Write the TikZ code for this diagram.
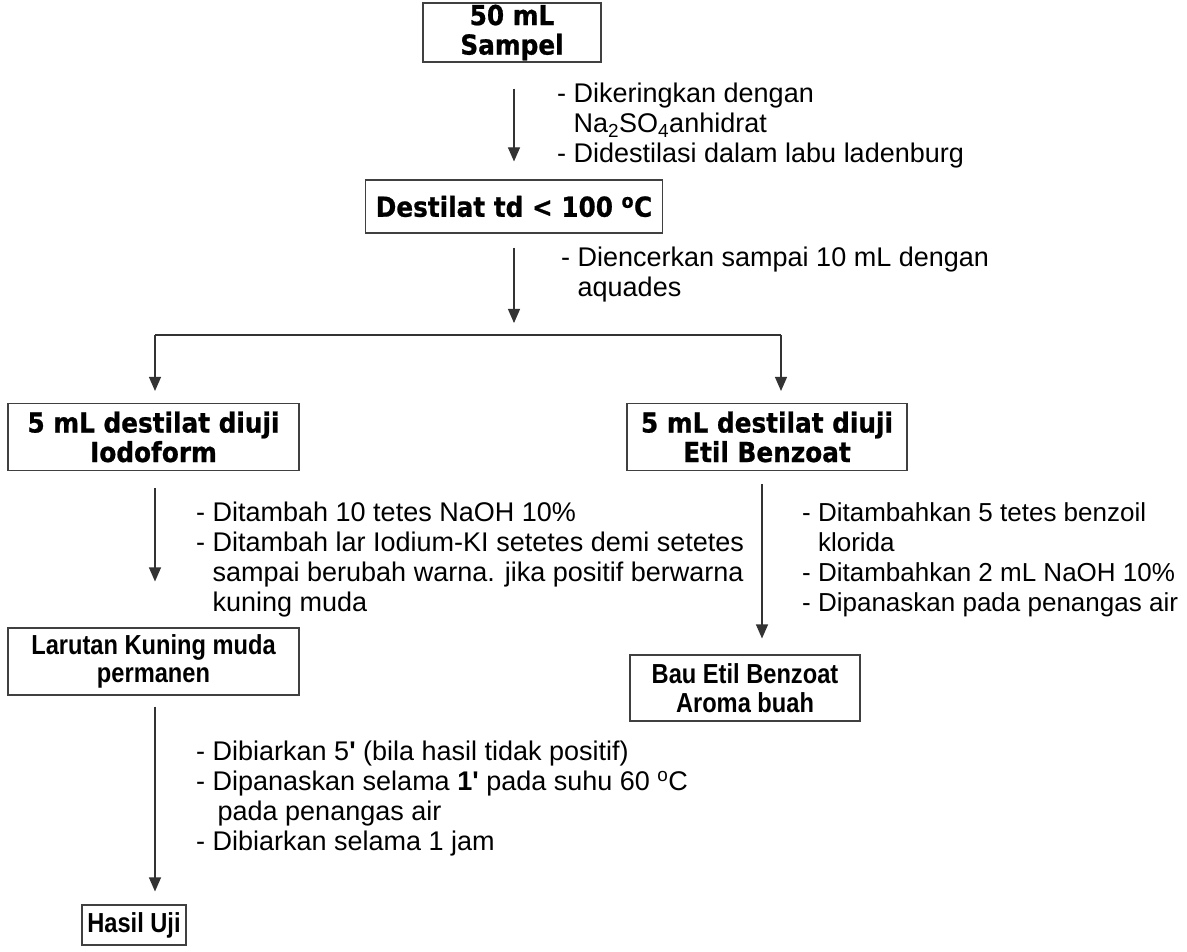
\documentclass[tikz,border=0pt]{standalone}
\usepackage{fontspec}
\setmainfont{Liberation Sans}
\newfontfamily\heavyfont{DejaVu Sans Bold}[FakeStretch=0.9, FakeBold=0.8]
\newfontfamily\boxfont{Liberation Sans Bold}[FakeStretch=0.86]
\usetikzlibrary{arrows.meta,positioning}
\newcommand{\ind}{\hphantom{-\ }}
\tikzset{
  box/.style={draw=black!75, line width=1.1pt, inner sep=0pt, align=center},
  heavy/.style={font=\heavyfont\fontsize{27.5}{29.5}\selectfont},
  plain/.style={font=\boxfont\fontsize{27.5}{28.5}\selectfont},
  note/.style={anchor=north west, inner sep=0pt, align=left,
    font=\fontsize{27}{30}\selectfont},
  link/.style={draw=black!80, line width=1.1pt},
  arr/.style={link, -{Triangle[width=12pt,length=14pt]}}
}
\begin{document}
\begin{tikzpicture}[x=1pt,y=-1pt]
  \useasboundingbox (0,0) rectangle (1187,952);
  % boxes
  \node [box, heavy, minimum width=178, minimum height=59] (sampel) at (512,32.5) {50 mL\\Sampel};
  \node [box, heavy, minimum width=297, minimum height=53] (destilat) at (514,206.5) {Destilat td < 100 \textsuperscript{o}C};
  \node [box, heavy, minimum width=291, minimum height=67] (iodo) at (153.5,437) {5 mL destilat diuji\\Iodoform};
  \node [box, heavy, minimum width=280, minimum height=67] (etil) at (767,437) {5 mL destilat diuji\\Etil Benzoat};
  \node [box, plain, minimum width=291, minimum height=67] (larutan) at (153.5,661.5) {Larutan Kuning muda\\permanen};
  \node [box, plain, minimum width=230, minimum height=66] (bau) at (745,688) {Bau Etil Benzoat\\Aroma buah};
  \node [box, plain, minimum width=104, minimum height=40] (hasil) at (134,925) {Hasil Uji};
  % notes
  \node [note] (n1) at (557,83) {- Dikeringkan dengan\\\ind Na\textsubscript{2}SO\textsubscript{4}anhidrat\\- Didestilasi dalam labu ladenburg};
  \node [note] (n2) at (561,247) {- Diencerkan sampai 10 mL dengan\\\ind aquades};
  \node [note] (n3) at (196,502) {- Ditambah 10 tetes NaOH 10\%\\- Ditambah lar Iodium-KI setetes demi setetes\\\ind sampai berubah warna. jika positif berwarna\\\ind kuning muda};
  \node [note, font=\fontsize{26}{30}\selectfont] (n4) at (802,502) {- Ditambahkan 5 tetes benzoil\\\ind klorida\\- Ditambahkan 2 mL NaOH 10\%\\- Dipanaskan pada penangas air};
  \node [note] (n5) at (196,741) {- Dibiarkan 5\textbf{\textquotesingle} (bila hasil tidak positif)\\- Dipanaskan selama \textbf{1\textquotesingle} pada suhu 60 \textsuperscript{o}C\\\ind\hspace{5pt}pada penangas air\\- Dibiarkan selama 1 jam};
  % branch
  \coordinate (split) at (514,335);
  \coordinate (splitL) at (155,335);
  \coordinate (splitR) at (781,335);
  % connectors
  \draw [arr, shorten <=26pt, shorten >=18pt] ([xshift=2]sampel.south) -- (destilat.north);
  \draw [arr, shorten <=14pt] (destilat.south) -- ([yshift=12]split);
  \draw [link] (splitL) -- (splitR);
  \draw [arr, shorten >=12pt] (splitL) -- (splitL |- iodo.north);
  \draw [arr, shorten >=12pt] (splitR) -- (splitR |- etil.north);
  \draw [arr, shorten <=17pt, shorten >=46pt] (splitL |- iodo.south) -- (splitL |- larutan.north);
  \draw [arr, shorten <=13pt, shorten >=16pt] ([xshift=-5]etil.south) -- ([xshift=17]bau.north);
  \draw [arr, shorten <=11pt, shorten >=13pt] (splitL |- larutan.south) -- ([xshift=21]hasil.north);
\end{tikzpicture}
\end{document}
